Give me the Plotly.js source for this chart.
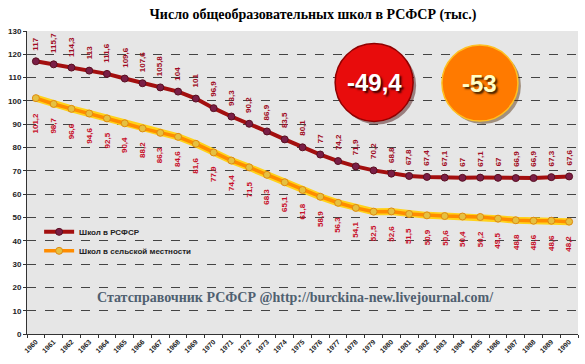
<!DOCTYPE html>
<html>
<head>
<meta charset="utf-8">
<script src="https://cdn.plot.ly/plotly-3.0.1.min.js"></script>
<style>html,body{margin:0;padding:0;background:#fff;}#chart{width:585px;height:364px;}</style>
</head>
<body>
<div id="chart"></div>
<script>
const years = ['1960','1961','1962','1963','1964','1965','1966','1967','1968','1969','1970','1971','1972','1973','1974','1975','1976','1977','1978','1979','1980','1981','1982','1983','1984','1985','1986','1987','1988','1989','1990'];
const schoolsRSFSR = [117,115.7,114.3,113.0,111.6,109.6,107.6,105.8,104,101,96.9,93.3,90.2,86.9,83.5,80.1,77,74.2,71.9,70.2,68.8,67.8,67.4,67.1,67,67.1,67,66.9,66.9,67.3,67.6];
const schoolsRural = [101.2,98.7,96.6,94.6,92.5,90.4,88.2,86.3,84.6,81.6,77.9,74.4,71.5,68.3,65.1,61.8,58.9,56.3,54.1,52.5,52.6,51.5,50.9,50.6,50.4,50.2,49.5,48.8,48.6,48.6,48.2];
const seriesNames = ['Школ в РСФСР','Школ в сельской местности'];
const changeRSFSR = '-49,4';
const changeRural = '-53';
const titleText = 'Число общеобразовательных школ в РСФСР (тыс.)';
const sourceText = 'Статсправочник РСФСР @http://burckina-new.livejournal.com/';

function fmt(v){ return (Number.isInteger(v) ? String(v) : v.toFixed(1)).replace('.', ','); }

const traces = [
  {x: years, y: schoolsRural, type:'scatter', mode:'lines', showlegend:false, hoverinfo:'skip',
   line:{color:'#ffd21a', width:7}},
  {x: years, y: schoolsRural, type:'scatter', mode:'lines+markers', name: seriesNames[1],
   line:{color:'#ff8c00', width:3.5},
   marker:{size:7, color:'#e6c040', line:{color:'#e08a10', width:1}}},
  {x: years, y: schoolsRSFSR, type:'scatter', mode:'lines+markers', name: seriesNames[0],
   line:{color:'#a30f0f', width:4},
   marker:{size:7, color:'#7a1e46', line:{color:'#5a0f20', width:1}}}
];

const annotations = [];
years.forEach((yr,i)=>{
  annotations.push({x: i, y: schoolsRSFSR[i], xref:'x', yref:'y', text: fmt(schoolsRSFSR[i]), showarrow:false,
    textangle:-90, yanchor:'bottom', xanchor:'center', yshift:9,
    font:{family:'Arial, Liberation Sans, sans-serif', size:8, color:'#a00c24', weight:'bold'}});
  annotations.push({x: i, y: schoolsRural[i], xref:'x', yref:'y', text: fmt(schoolsRural[i]), showarrow:false,
    textangle:-90, yanchor:'top', xanchor:'center', yshift:-12,
    font:{family:'Arial, Liberation Sans, sans-serif', size:8, color:'#c8102a', weight:'bold'}});
});
annotations.push({xref:'paper', yref:'paper', x:0.487, y:0.119, text: sourceText, showarrow:false,
  xanchor:'center', yanchor:'middle',
  font:{family:'Liberation Serif, DejaVu Serif, serif', size:14, color:'#4f6070', weight:'bold'}});
annotations.push({xref:'paper', yref:'paper', x:0.630, y:0.830, text: changeRSFSR, showarrow:false,
  xanchor:'center', yanchor:'middle',
  font:{family:'Liberation Sans, Arial, sans-serif', size:24, color:'#ffffff', weight:'bold', shadow:'2px 2px 2px #3a0000'}});
annotations.push({xref:'paper', yref:'paper', x:0.822, y:0.828, text: changeRural, showarrow:false,
  xanchor:'center', yanchor:'middle',
  font:{family:'Liberation Sans, Arial, sans-serif', size:24, color:'#ffffc8', weight:'bold', shadow:'2px 2px 2px #402000'}});

function circ(xa, ya, r, fill, edge, dx, dy){
  return {type:'circle', xref:'paper', yref:'paper', xsizemode:'pixel', ysizemode:'pixel',
    xanchor:xa, yanchor:ya, x0:-r+dx, x1:r+dx, y0:-r-dy, y1:r-dy,
    fillcolor:fill, line:{color:edge, width:1.5}, layer:'above'};
}
const shapes = [
  Object.assign(circ(0.630,0.830,39,'rgba(60,0,0,0.45)','rgba(0,0,0,0)',3,3),{line:{width:0}}),
  circ(0.630,0.830,39,'#e80c0c','#900000',0,0),
  Object.assign(circ(0.822,0.828,38,'rgba(80,40,0,0.45)','rgba(0,0,0,0)',3,3),{line:{width:0}}),
  circ(0.822,0.828,38,'#ff7a00','#ffc020',0,0)
];

const layout = {
  width:585, height:364,
  margin:{l:27, r:7, t:31, b:30},
  paper_bgcolor:'#ffffff', plot_bgcolor:'#e6e6e6',
  title:{text: titleText, x:0.535, xref:'container', y:0.96, yref:'container', yanchor:'middle', xanchor:'center',
    font:{family:'Liberation Serif, Times New Roman, serif', size:14, color:'#000', weight:'bold'}},
  xaxis:{type:'category', range:[-0.5,30.5], tickangle:-45, showgrid:false, showline:true, linecolor:'#333', linewidth:1,
    ticks:'outside', ticklen:3, tickcolor:'#333', tickson:'boundaries',
    tickfont:{family:'Arial, Liberation Sans, sans-serif', size:7, color:'#222', weight:'bold'}, fixedrange:true},
  yaxis:{range:[0,130], dtick:10, showgrid:true, gridcolor:'#444', griddash:'dash', gridwidth:1,
    showline:true, linecolor:'#333', linewidth:1, ticks:'outside', ticklen:3, tickcolor:'#333', zeroline:false,
    tickfont:{family:'Arial, Liberation Sans, sans-serif', size:8, color:'#222', weight:'bold'}, fixedrange:true},
  legend:{x:0.022, y:0.385, xanchor:'left', yanchor:'top', bgcolor:'rgba(0,0,0,0)', traceorder:'reversed',
    font:{family:'Arial, Liberation Sans, sans-serif', size:8, color:'#222', weight:'bold'}, itemwidth:30, tracegroupgap:0},
  showlegend:true,
  annotations: annotations,
  shapes: shapes
};

Plotly.newPlot('chart', traces, layout, {displayModeBar:false, staticPlot:true});
</script>
</body>
</html>
